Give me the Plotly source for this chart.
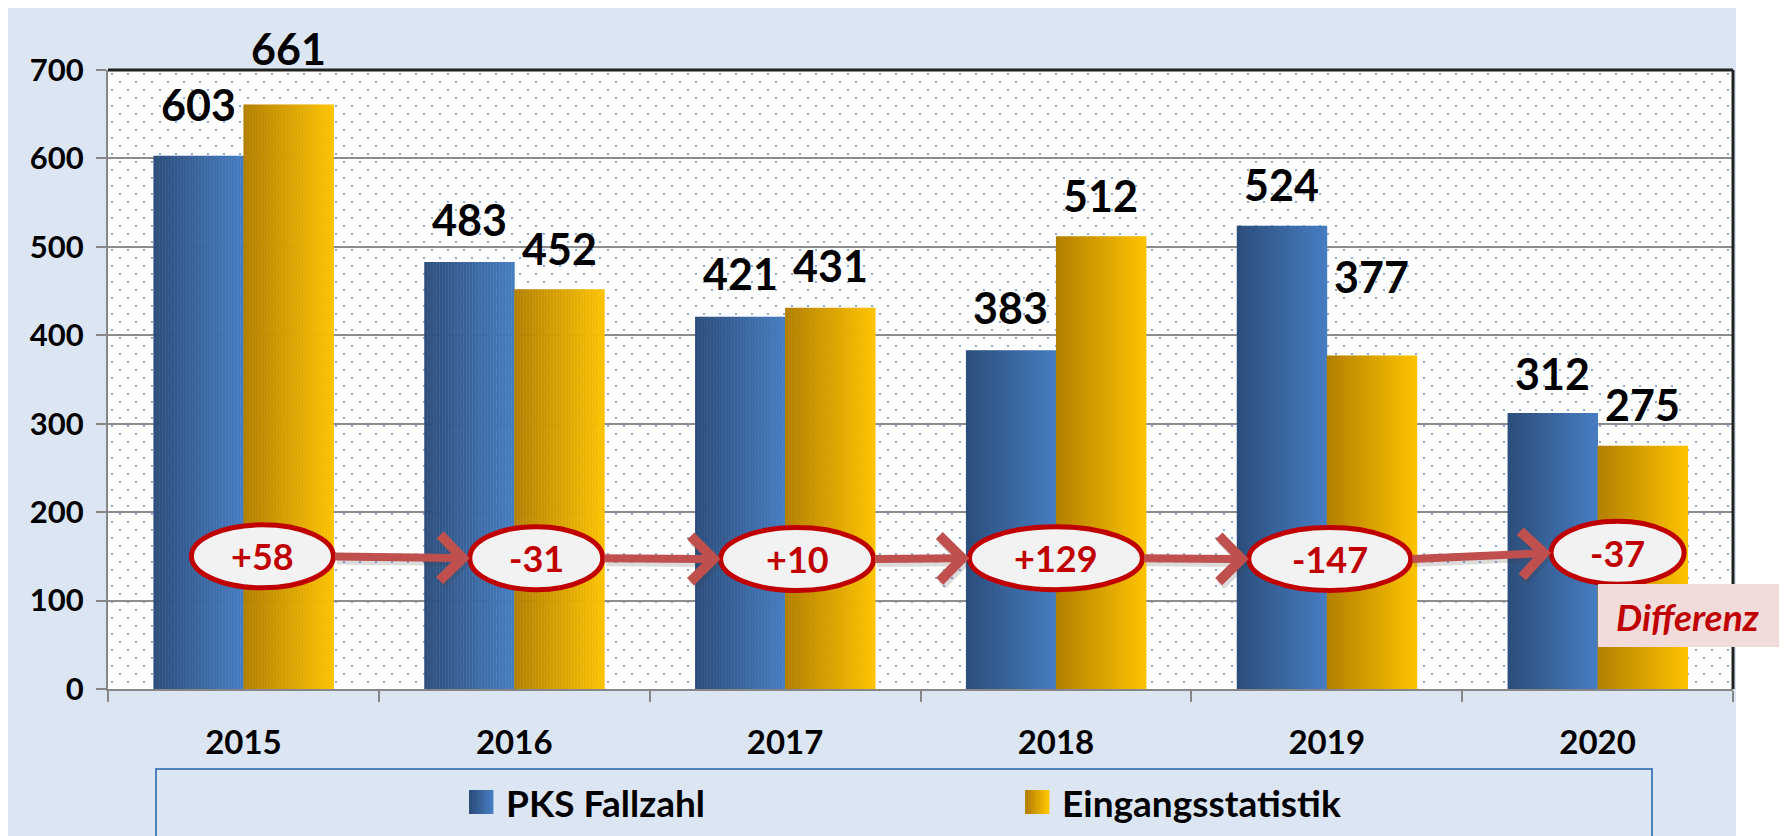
import base64
import plotly.graph_objects as go

# ---------------- data ----------------
years = ["2015", "2016", "2017", "2018", "2019", "2020"]
pks_fallzahl = [603, 483, 421, 383, 524, 312]
eingangsstatistik = [661, 452, 431, 512, 377, 275]
series_names = ["PKS Fallzahl", "Eingangsstatistik"]
y_ticks = [0, 100, 200, 300, 400, 500, 600, 700]
diff_label = "Differenz"

# ---------------- layout constants ----------------
OFF = 8                          # page body margin (figure is drawn at 8,8)
W, H = 1787 - OFF, 836 - OFF
ML, MR, MT, MB = 100, 54, 62, 147
PW, PH = W - ML - MR, H - MT - MB
YMAX = 700
PXU = PW / len(years)          # px per category unit
PXY = PH / YMAX                # px per value unit
BW = 90 / PXU                  # bar width in category units
NS = 30                        # gradient slices per bar

FONT = "Lato"
BG = "#DCE6F2"
RED = "#C00000"
ARROW = "#C0504D"

blue_grad = ((44, 78, 124), (70, 124, 192))
gold_grad = ((180, 128, 0), (252, 194, 0))

# label vertical offsets (px above bar top, to label centre)
label_shift_pks = [51, 42, 43, 43, 41, 40]
label_shift_ein = [56, 41, 42, 41, 79, 41]
# ellipse styling (px offsets from category centre, widths)
ell_dx = [19, 22, 12, 0, 3, 20]
ell_w = [142, 133, 153, 173, 162, 133]
ell_h = 63
ell_yv = [150, 148, 147, 148, 147, 154]
# legend placement (screen px): swatch left edges, centre line
legend_sw_x = [469, 1025]
legend_cy = 802
SW = 24


def mix(c0, c1, t):
    return "rgb(%d,%d,%d)" % tuple(round(a + (b - a) * t) for a, b in zip(c0, c1))


def px2x(px):
    return (px - OFF - ML) / PW


def py2y(py):
    return (H - MB - (py - OFF)) / PH


fig = go.Figure()
xs = list(range(len(years)))

for si, (vals, grad, base) in enumerate([(pks_fallzahl, blue_grad, -BW),
                                         (eingangsstatistik, gold_grad, 0.0)]):
    for k in range(NS):
        t = k / (NS - 1)
        fig.add_trace(go.Bar(
            x=xs, y=vals,
            width=[BW / NS * 1.15] * len(xs),
            offset=[base + k * BW / NS] * len(xs),
            marker=dict(color=mix(grad[0], grad[1], t), line=dict(width=0)),
            name=series_names[si],
            showlegend=False,
            legendgroup=series_names[si],
            hovertemplate=series_names[si] + " %{x}: %{y}<extra></extra>",
        ))

annotations = []
shapes = []

# value labels
for i in xs:
    annotations.append(dict(x=i - BW / 2, y=pks_fallzahl[i], xref="x", yref="y",
                            text=str(pks_fallzahl[i]), showarrow=False,
                            yanchor="middle", yshift=label_shift_pks[i],
                            font=dict(family=FONT, size=43, color="black", weight="bold")))
    annotations.append(dict(x=i + BW / 2, y=eingangsstatistik[i], xref="x", yref="y",
                            text=str(eingangsstatistik[i]), showarrow=False,
                            yanchor="middle", yshift=label_shift_ein[i],
                            font=dict(family=FONT, size=43, color="black", weight="bold")))

# differences
diffs = [e - p for p, e in zip(pks_fallzahl, eingangsstatistik)]

# arrows between ellipses (shadow first, then arrow)
for i in range(len(xs) - 1):
    head_px = (i + 1) * PXU + ell_dx[i + 1] - ell_w[i + 1] / 2
    tail_px = i * PXU + ell_dx[i] + ell_w[i] / 2
    head_x = (i + 1) + (ell_dx[i + 1] - ell_w[i + 1] / 2) / PXU
    ax = -(head_px - tail_px)
    ay = (ell_yv[i + 1] - ell_yv[i]) * PXY
    for color, xs_, ys_ in [("rgba(60,60,60,0.18)", 2, -4), (ARROW, 0, 0)]:
        annotations.append(dict(x=head_x, y=ell_yv[i + 1], xref="x", yref="y",
                                ax=ax, ay=ay, text="", showarrow=True,
                                arrowhead=4, arrowsize=1.1, arrowwidth=8,
                                arrowcolor=color, standoff=0, startstandoff=0,
                                xshift=xs_, yshift=ys_))

for i in xs:
    shapes.append(dict(type="circle", xref="x", yref="y",
                       xsizemode="pixel", ysizemode="pixel",
                       xanchor=i, yanchor=ell_yv[i],
                       x0=ell_dx[i] - ell_w[i] / 2, x1=ell_dx[i] + ell_w[i] / 2,
                       y0=-ell_h / 2, y1=ell_h / 2,
                       fillcolor="#F2F2F2", line=dict(color=RED, width=5),
                       layer="above"))
    annotations.append(dict(x=i + ell_dx[i] / PXU, y=ell_yv[i], xref="x", yref="y",
                            text=("%+d" % diffs[i]), showarrow=False,
                            xanchor="center", yanchor="middle",
                            font=dict(family=FONT, size=36, color=RED, weight="bold")))

# white strip right of the light-blue chart area
shapes.append(dict(type="rect", xref="paper", yref="paper",
                   x0=px2x(1736), x1=px2x(1800), y0=py2y(850), y1=py2y(0),
                   fillcolor="white", line=dict(width=0), layer="below"))

# dark top/right plot border
shapes.append(dict(type="line", xref="paper", yref="paper", x0=0, x1=1, y0=1, y1=1,
                   line=dict(color="#222222", width=3), layer="above"))
shapes.append(dict(type="line", xref="paper", yref="paper", x0=1, x1=1, y0=0, y1=1,
                   line=dict(color="#222222", width=3), layer="above"))

# legend frame
shapes.append(dict(type="rect", xref="paper", yref="paper",
                   x0=px2x(156), x1=px2x(1652), y0=py2y(850), y1=py2y(769),
                   fillcolor="rgba(0,0,0,0)", line=dict(color="#4F81BD", width=2),
                   layer="below"))

# legend swatches (gradient) and texts
NSW = 8
for si, grad in enumerate([blue_grad, gold_grad]):
    x0 = legend_sw_x[si]
    for k in range(NSW):
        t = k / (NSW - 1)
        shapes.append(dict(type="rect", xref="paper", yref="paper",
                           x0=px2x(x0 + k * SW / NSW), x1=px2x(x0 + (k + 1) * SW / NSW + 0.4),
                           y0=py2y(legend_cy + SW / 2), y1=py2y(legend_cy - SW / 2),
                           fillcolor=mix(grad[0], grad[1], t), line=dict(width=0),
                           layer="below"))
    annotations.append(dict(x=px2x(x0 + SW + 11), y=py2y(legend_cy), xref="paper", yref="paper",
                            text=series_names[si], showarrow=False,
                            xanchor="left", yanchor="middle",
                            font=dict(family=FONT, size=37, color="black", weight="bold")))

# Differenz box
shapes.append(dict(type="rect", xref="paper", yref="paper",
                   x0=px2x(1598), x1=px2x(1800), y0=py2y(647), y1=py2y(584),
                   fillcolor="#F2DCDB", line=dict(width=0), layer="above"))
annotations.append(dict(x=px2x(1687), y=py2y(616), xref="paper", yref="paper",
                        text="<i>%s</i>" % diff_label, showarrow=False,
                        xanchor="center", yanchor="middle",
                        font=dict(family=FONT, size=37, color=RED, weight="bold")))

# dotted plot-area background
svg = ("<svg xmlns='http://www.w3.org/2000/svg' width='%d' height='%d'>"
       "<defs><pattern id='p' width='16' height='16' patternUnits='userSpaceOnUse'>"
       "<circle cx='4' cy='4' r='1.1' fill='#6A98DA'/>"
       "<circle cx='12' cy='12' r='1.1' fill='#6A98DA'/></pattern></defs>"
       "<rect width='100%%' height='100%%' fill='white'/>"
       "<rect width='100%%' height='100%%' fill='url(#p)'/></svg>") % (PW, PH)
src = "data:image/svg+xml;base64," + base64.b64encode(svg.encode()).decode()

fig.update_layout(
    width=W, height=H, autosize=False,
    margin=dict(l=ML, r=MR, t=MT, b=MB, pad=0, autoexpand=False),
    paper_bgcolor=BG, plot_bgcolor="white",
    barmode="overlay",
    font=dict(family=FONT, color="black"),
    images=[dict(source=src, xref="paper", yref="paper", x=0, y=1, sizex=1, sizey=1,
                 sizing="stretch", xanchor="left", yanchor="top", layer="below")],
    shapes=shapes,
    annotations=annotations,
    showlegend=False,
    xaxis=dict(range=[-0.5, len(years) - 0.5], tickmode="array", tickvals=xs, ticktext=years,
               ticks="", showline=True, linecolor="#868686", linewidth=2,
               showgrid=False, zeroline=False, ticklabelstandoff=23,
               tickfont=dict(family=FONT, size=33, color="black", weight="bold"),
               minor=dict(tickmode="array", tickvals=[i - 0.5 for i in range(len(years) + 1)],
                          ticks="outside", ticklen=11, tickwidth=2, tickcolor="#868686",
                          showgrid=False),
               fixedrange=True),
    yaxis=dict(range=[0, YMAX], tickmode="array", tickvals=y_ticks,
               ticks="outside", ticklen=10, tickwidth=2, tickcolor="#868686",
               showline=True, linecolor="#868686", linewidth=2,
               showgrid=True, gridcolor="#8C8C8C", gridwidth=2, zeroline=False,
               ticklabelstandoff=6,
               tickfont=dict(family=FONT, size=31, color="black", weight="bold"),
               fixedrange=True),
)

fig.write_html("out.html")
